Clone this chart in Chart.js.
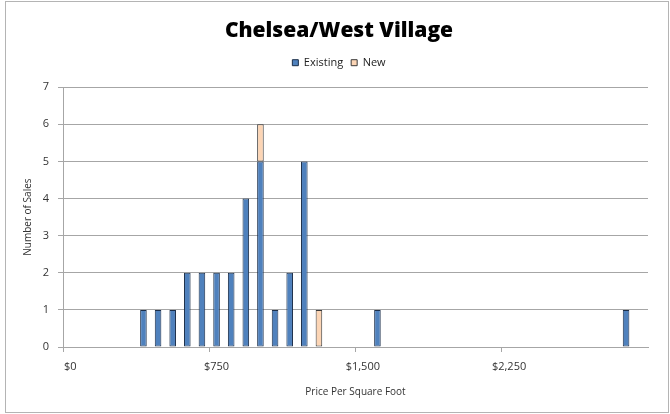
<!DOCTYPE html>
<html>
<head>
<meta charset="utf-8">
<script src="https://cdn.jsdelivr.net/npm/chart.js@4.4.1/dist/chart.umd.min.js"></script>
<style>
  body { margin: 0; background: #fff; }
  #wrap { position: absolute; left: 5px; top: 1px; width: 662px; height: 410px; border: 1px solid #b4b4b4; }
</style>
</head>
<body>
<div id="wrap"><canvas id="chart" width="662" height="410"></canvas></div>
<script>
// price bins ($ per sq ft), one category each
const priceBins = [0, 75, 150, 225, 300, 375, 450, 525, 600, 675,
  750, 825, 900, 975, 1050, 1125, 1200, 1275, 1350, 1425,
  1500, 1575, 1650, 1725, 1800, 1875, 1950, 2025, 2100, 2175,
  2250, 2325, 2400, 2475, 2550, 2625, 2700, 2775, 2850, 2925];
const existingSales = [0, 0, 0, 0, 0, 1, 1, 1, 2, 2,
  2, 2, 4, 5, 1, 2, 5, 0, 0, 0,
  0, 1, 0, 0, 0, 0, 0, 0, 0, 0,
  0, 0, 0, 0, 0, 0, 0, 0, 1, 0];
const newSales = [0, 0, 0, 0, 0, 0, 0, 0, 0, 0,
  0, 0, 0, 1, 0, 0, 0, 1, 0, 0,
  0, 0, 0, 0, 0, 0, 0, 0, 0, 0,
  0, 0, 0, 0, 0, 0, 0, 0, 0, 0];
const yTicks = [0, 1, 2, 3, 4, 5, 6, 7];

const FONT = '"Open Sans", "DejaVu Sans", sans-serif';
const gridGray = '#a6a6a6';

// extra room under the legend, before the plot starts
const legendGap = {
  id: 'legendGap',
  beforeUpdate(chart) {
    const lg = chart.legend;
    if (lg && !lg._gapPatched) {
      const fit = lg.fit;
      lg.fit = function () { fit.call(this); this.height += 9; };
      lg._gapPatched = true;
    }
  }
};

const ctx = document.getElementById('chart').getContext('2d');
new Chart(ctx, {
  type: 'bar',
  data: {
    labels: priceBins.map(p => '$' + p.toLocaleString('en-US')),
    datasets: [
      {
        label: 'Existing',
        data: existingSales,
        backgroundColor: '#4f81bd',
        borderColor: '#1c2f4a',
        borderWidth: 1,
        borderSkipped: false,
        barPercentage: 0.45,
        categoryPercentage: 1
      },
      {
        label: 'New',
        data: newSales,
        backgroundColor: '#fcd5b5',
        borderColor: '#3a3a3a',
        borderWidth: 1,
        borderSkipped: false,
        barPercentage: 0.45,
        categoryPercentage: 1
      }
    ]
  },
  plugins: [legendGap],
  options: {
    responsive: false,
    animation: false,
    layout: { padding: { left: 24, right: 20, top: 0, bottom: 0 } },
    plugins: {
      title: {
        display: true,
        text: 'Chelsea/West Village',
        color: '#000',
        font: { family: FONT, size: 21, weight: '800' },
        padding: { top: 16, bottom: 6 }
      },
      legend: {
        display: true,
        labels: {
          boxWidth: 6,
          boxHeight: 6,
          padding: 8,
          color: '#222',
          font: { family: FONT, size: 11 }
        }
      },
      tooltip: { enabled: false }
    },
    scales: {
      x: {
        stacked: true,
        offset: true,
        afterFit: s => { s.height = 65; },
        grid: {
          offset: true,
          drawOnChartArea: false,
          drawTicks: true,
          tickLength: 5,
          color: c => (c.index % 10 === 0 ? gridGray : 'rgba(0,0,0,0)')
        },
        border: { color: gridGray },
        ticks: {
          autoSkip: false,
          maxRotation: 0,
          padding: 8,
          color: '#333',
          font: { family: FONT, size: 11 },
          callback: function (val, i) { return i % 10 === 0 ? this.getLabelForValue(val) : ''; }
        },
        title: {
          display: true,
          text: 'Price Per Square Foot',
          color: '#333',
          font: { family: FONT, size: 10 },
          padding: { top: 4, bottom: 14 }
        }
      },
      y: {
        stacked: true,
        min: 0,
        max: 7,
        afterFit: s => { s.width = 33; },
        afterBuildTicks: s => { s.ticks = yTicks.map(v => ({ value: v })); },
        grid: { color: gridGray, tickLength: 5 },
        border: { color: gridGray },
        ticks: {
          padding: 9,
          color: '#333',
          font: { family: FONT, size: 11 }
        },
        title: {
          display: true,
          text: 'Number of Sales',
          color: '#333',
          font: { family: FONT, size: 10 },
          padding: { top: -8, bottom: 0 }
        }
      }
    }
  }
});
</script>
</body>
</html>
